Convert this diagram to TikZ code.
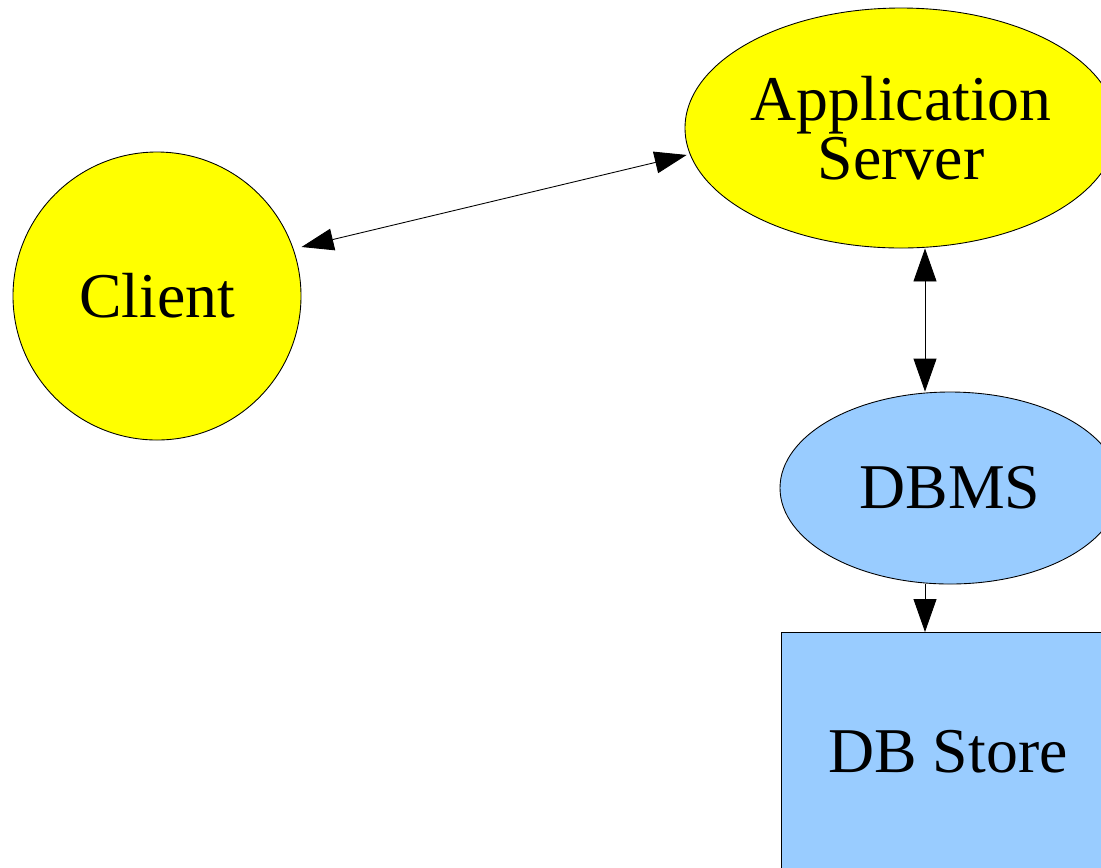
\documentclass[tikz,border=0pt]{standalone}
\usepackage{fontspec}
\setmainfont{Liberation Serif}
\usetikzlibrary{shapes.geometric,arrows.meta}
\definecolor{nodeyellow}{HTML}{FFFF00}
\definecolor{nodeblue}{HTML}{99CCFF}
\tikzset{
  lbl/.style={font=\fontsize{36.3}{33.5}\selectfont, align=center, text=black},
  yellownode/.style={lbl, draw=black, line width=0.5pt, fill=nodeyellow, inner sep=0pt},
  bluenode/.style={lbl, draw=black, line width=0.5pt, fill=nodeblue, inner sep=0pt},
  conn/.style={draw=black, line width=0.5pt},
  biA/.style={{Triangle[length=0.64cm,width=0.44cm]}-{Triangle[length=0.64cm,width=0.44cm]}},
  biV/.style={{Triangle[length=0.66cm,width=0.46cm]}-{Triangle[length=0.66cm,width=0.46cm]}},
  tipV/.style={-{Triangle[length=0.66cm,width=0.46cm]}}
}
\begin{document}
\begin{tikzpicture}[x=0.02cm,y=-0.02cm]
\useasboundingbox (0,0) rectangle (1101,867);
\clip (0,0) rectangle (1101,867);
\fill[white] (0,0) rectangle (1101,867);
\node[yellownode, circle, minimum size=288*0.02cm] (client) at (157,296) {Client};
\node[yellownode, ellipse, minimum width=432*0.02cm, minimum height=240*0.02cm] (app) at (901,128) {Application\\Server};
\node[bluenode, ellipse, minimum width=340*0.02cm, minimum height=192*0.02cm] (dbms) at (950,488) {DBMS};
\node[bluenode, rectangle, minimum width=334*0.02cm, minimum height=240*0.02cm, anchor=north west] (store) at (781,632) {};
\node[lbl] (storelbl) at (948,752) {DB Store};
\coordinate (vx) at (925,0);
\draw[conn, biA] ([shift={(8,-2)}]client.19) -- ([shift={(-3,1)}]app.187);
\draw[conn, biV] (app.south -| vx) -- (dbms.north -| vx);
\draw[conn, tipV] (dbms.south -| vx) -- (store.north -| vx);
\end{tikzpicture}
\end{document}
